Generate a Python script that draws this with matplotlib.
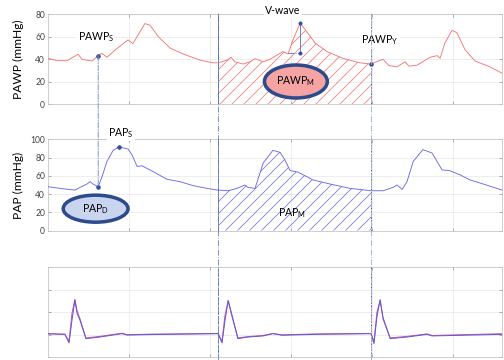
import matplotlib.pyplot as plt
import numpy as np
from matplotlib.patches import Ellipse, ConnectionPatch
from matplotlib.lines import Line2D
from matplotlib.transforms import blended_transform_factory
from matplotlib.colors import to_rgba

plt.rcParams['font.family'] = ['Lato', 'DejaVu Sans']
plt.rcParams['mathtext.fontset'] = 'custom'
plt.rcParams['mathtext.rm'] = 'Lato'
plt.rcParams['hatch.linewidth'] = 0.8

# time (s) and pressure (mmHg)
pawp_t = [0.000, 0.028, 0.059, 0.093, 0.105, 0.136, 0.157, 0.167, 0.182, 0.207,
          0.247, 0.262, 0.275, 0.299, 0.315, 0.340, 0.377, 0.417, 0.469, 0.509,
          0.525, 0.552, 0.565, 0.577, 0.602, 0.623, 0.639, 0.664, 0.685, 0.725,
          0.741, 0.756, 0.778, 0.793, 0.824, 0.861, 0.910, 0.963, 0.997, 1.019,
          1.034, 1.052, 1.077, 1.102, 1.114, 1.139, 1.179, 1.201, 1.210, 1.225,
          1.247, 1.262, 1.287, 1.318, 1.364, 1.404]
pawp = [40.6, 38.5, 38.5, 44.3, 39.7, 38.2, 43.6, 45.0, 41.5, 48.0,
        57.0, 53.6, 60.0, 71.5, 70.0, 60.0, 49.7, 44.5, 39.0, 36.6,
        36.6, 39.0, 41.5, 37.5, 35.5, 37.5, 40.3, 37.5, 39.7, 46.6,
        44.5, 57.0, 71.8, 66.4, 54.3, 46.6, 40.6, 36.6, 35.5, 38.2,
        39.7, 34.2, 33.0, 37.5, 33.6, 34.5, 41.5, 43.0, 40.6, 54.3,
        65.5, 63.4, 48.2, 38.2, 33.0, 27.0]

pap_t = [0.000, 0.046, 0.083, 0.099, 0.120, 0.130, 0.139, 0.155, 0.167, 0.182,
         0.201, 0.219, 0.247, 0.259, 0.275, 0.290, 0.324, 0.367, 0.407, 0.448,
         0.491, 0.525, 0.556, 0.583, 0.608, 0.617, 0.639, 0.664, 0.694, 0.716,
         0.731, 0.747, 0.772, 0.818, 0.870, 0.932, 0.997, 1.034, 1.065, 1.077,
         1.093, 1.108, 1.127, 1.157, 1.185, 1.216, 1.241, 1.272, 1.302, 1.343,
         1.401]
pap = [48.1, 45.9, 44.4, 47.4, 51.0, 53.7, 51.0, 48.1, 59.3, 75.9,
       88.1, 91.9, 89.6, 83.3, 70.4, 71.1, 64.8, 56.3, 53.7, 49.3,
       46.3, 44.4, 43.7, 46.3, 50.0, 47.4, 46.3, 74.1, 88.1, 85.9,
       77.8, 65.9, 64.1, 55.6, 51.1, 46.3, 43.7, 43.7, 47.4, 50.0,
       45.2, 53.7, 75.9, 88.9, 85.2, 66.7, 65.6, 61.1, 55.6, 51.1,
       44.4]

ecg_t = [0.000, 0.052, 0.065, 0.074, 0.083, 0.090, 0.099, 0.117, 0.160, 0.228,
         0.244, 0.315, 0.525, 0.537, 0.546, 0.556, 0.568, 0.586, 0.617, 0.664,
         0.694, 0.722, 0.830, 0.997, 1.006, 1.015, 1.025, 1.034, 1.056, 1.108,
         1.170, 1.185, 1.404]
ecg_blue = [1.05, 1.02, 0.64, 1.64, 2.53, 1.94, 1.64, 0.83, 0.90, 1.05,
            0.99, 1.01, 1.05, 0.64, 1.60, 2.53, 1.87, 0.83, 0.90, 0.95,
            1.05, 0.98, 1.02, 1.05, 0.61, 1.79, 2.56, 1.76, 0.83, 0.90,
            1.02, 0.95, 1.02]
ecg_red = [1.04, 1.03, 0.72, 1.95, 2.58, 2.05, 1.70, 0.86, 0.93, 1.07,
           1.00, 1.03, 1.06, 0.70, 1.85, 2.50, 1.80, 0.86, 0.92, 0.97,
           1.06, 1.00, 1.04, 1.06, 0.68, 2.00, 2.52, 1.70, 0.86, 0.93,
           1.04, 0.97, 1.05]

beat_start = 0.525
beat_end = 0.997
t_pawp_s = 0.155
t_pap_s = 0.219
t_vwave = 0.778
t_vbase = 0.741
v_base = 45.0

red = '#f07878'
red_hatch = '#f08080'
blue = '#6a6ae6'
blue_hatch = '#7a7ae6'
navy = '#2c4a8c'
dot = '#2f4f9f'
grid_c = '#e8e8e8'
spine_c = '#c4c4c4'

fig = plt.figure(figsize=(7, 5), dpi=72)
ax1 = fig.add_axes([0.0952, 0.7111, 0.9008, 0.25])
ax2 = fig.add_axes([0.0952, 0.3597, 0.9008, 0.2528])
ax3 = fig.add_axes([0.0952, 0.0075, 0.9008, 0.25])

for ax in (ax1, ax2, ax3):
    ax.set_xlim(0, 1.401)
    ax.set_xticks(np.arange(0.25, 1.4, 0.25))
    ax.set_xticklabels([])
    ax.grid(True, color=grid_c, linewidth=0.7)
    ax.set_axisbelow(True)
    for s in ax.spines.values():
        s.set_color(spine_c)
        s.set_linewidth(0.8)
    ax.tick_params(direction='in', length=3, color='#9a9a9a', labelcolor='#444444',
                   labelsize=8.5, right=True, top=True, pad=3)

# PAWP panel
ax1.set_ylim(0, 80)
ax1.set_yticks([0, 20, 40, 60, 80])
ax1.plot(pawp_t, pawp, color=red, lw=0.9, zorder=3)
pt = np.array(pawp_t)
m = (pt >= beat_start) & (pt <= beat_end)
hatch1 = ax1.fill_between(pt[m], np.array(pawp)[m], 0, facecolor='none',
                          edgecolor=red_hatch, hatch='//', linewidth=0, zorder=2)
hatch1._hatch_color = to_rgba(red_hatch)   # 3.10 keeps the rc hatch colour otherwise
ax1.set_ylabel('PAWP (mmHg)', fontsize=12)
ax1.yaxis.set_label_coords(-0.052, 0.5)

# PAP panel
ax2.set_ylim(0, 100)
ax2.set_yticks([0, 20, 40, 60, 80, 100])
ax2.plot(pap_t, pap, color=blue, lw=0.9, zorder=3)
qt = np.array(pap_t)
m = (qt >= beat_start) & (qt <= beat_end)
hatch2 = ax2.fill_between(qt[m], np.array(pap)[m], 0, facecolor='none',
                          edgecolor=blue_hatch, hatch='//', linewidth=0, zorder=2)
hatch2._hatch_color = to_rgba(blue_hatch)
ax2.set_ylabel('PAP (mmHg)', fontsize=12)
ax2.yaxis.set_label_coords(-0.052, 0.5)

# ECG panel
ax3.set_ylim(0, 4)
ax3.set_yticks([0, 1, 2, 3, 4])
ax3.set_yticklabels([])
ax3.plot(ecg_t, ecg_red, color='#e0507a', lw=1.0, zorder=3)
ax3.plot(ecg_t, ecg_blue, color='#5a5ae0', lw=1.0, zorder=4)

# beat markers across all panels
tr = blended_transform_factory(ax1.transData, fig.transFigure)
for x, c in [(beat_start, '#6f8cc8'), (beat_end, '#9fb4dc')]:
    fig.add_artist(Line2D([x, x], [0, 0.963], transform=tr, color=c, lw=0.9, ls='-.', zorder=1))
ax1.axvline(beat_start, color='#4a68b0', lw=1.0, zorder=4)
for ax in (ax1, ax2, ax3):
    ax.axvline(beat_end, color='#505050', lw=0.9, ls=(0, (2, 1.5)), zorder=4)
ax2.axvline(beat_start, color='#4a68b0', lw=0.9, ls='-.', zorder=4)
ax3.axvline(beat_start, color='#4a68b0', lw=0.9, ls='--', zorder=4)

# PAWP_S -> PAP_D link
y_ps = np.interp(t_pawp_s, pawp_t, pawp)
y_pd = np.interp(t_pawp_s, pap_t, pap)
con = ConnectionPatch(xyA=(t_pawp_s, y_ps), coordsA=ax1.transData,
                      xyB=(t_pawp_s, y_pd), coordsB=ax2.transData,
                      color='#6f8cc8', lw=0.9, ls='-.', zorder=1)
fig.add_artist(con)
ax1.plot([t_pawp_s], [y_ps], 'o', ms=3.5, color=dot, zorder=6)
ax2.plot([t_pawp_s], [y_pd], 'o', ms=3.5, color=dot, zorder=6)

# PAP_S
y_pap_s = np.interp(t_pap_s, pap_t, pap)
ax2.plot([t_pap_s], [y_pap_s], 'o', ms=3.5, color=dot, zorder=6)

# PAWP_Y
y_pawp_y = np.interp(beat_end, pawp_t, pawp)
ax1.plot([beat_end], [y_pawp_y], 'o', ms=3.5, color=dot, zorder=6)

# V-wave
y_v = np.interp(t_vwave, pawp_t, pawp)
ax1.plot([t_vwave, t_vwave], [v_base, y_v], color='#5a7ad0', lw=0.9, zorder=5)
ax1.plot([t_vbase, t_vwave], [v_base, v_base], color='#5a7ad0', lw=0.9, ls='-.', zorder=5)
ax1.plot([t_vwave, t_vwave], [v_base, y_v], 'o', ms=3, color=dot, zorder=6)

wb = dict(facecolor='white', edgecolor='none', pad=1.5)
ax1.text(0.725, 83, 'V-wave', fontsize=10.5, ha='center', va='center', bbox=wb,
         clip_on=False, zorder=7)
ax1.text(0.148, 59.5, r'PAWP$_{\rm S}$', fontsize=10.5, ha='center', va='center',
         bbox=wb, zorder=7)
ax1.text(1.025, 57, r'PAWP$_{\rm Y}$', fontsize=10.5, ha='center', va='center',
         bbox=wb, zorder=7)
ax2.text(0.225, 107, r'PAP$_{\rm S}$', fontsize=10.5, ha='center', va='center',
         bbox=wb, clip_on=False, zorder=7)
ax2.text(0.753, 19, r'PAP$_{\rm M}$', fontsize=10.5, ha='center', va='center', zorder=7)

# ellipses
ax1.add_patch(Ellipse((0.765, 20), 0.194, 29.3, facecolor='#f6a3a3', edgecolor=navy,
                      lw=3.5, zorder=6))
ax1.text(0.765, 20, r'PAWP$_{\rm M}$', fontsize=10.5, ha='center', va='center', zorder=7)
ax2.add_patch(Ellipse((0.147, 24), 0.2, 29.7, facecolor='#c9d5ee', edgecolor=navy,
                      lw=3.5, zorder=6))
ax2.text(0.147, 24, r'PAP$_{\rm D}$', fontsize=10.5, ha='center', va='center', zorder=7)

plt.savefig('out.png', dpi=72)
